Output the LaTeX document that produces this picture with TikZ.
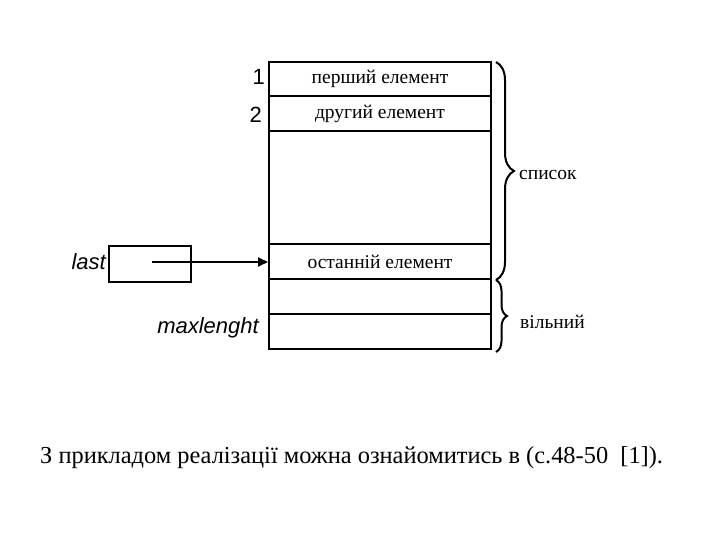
\documentclass[tikz,border=0pt]{standalone}
\usepackage{fontspec}
\setmainfont{Liberation Serif}
\newfontfamily\arialf{Liberation Sans}
\usetikzlibrary{decorations.pathreplacing,arrows.meta,calc}
\begin{document}
\begin{tikzpicture}[x=1pt,y=-1pt,
  cell/.style={draw,line width=2pt,minimum width=222pt,inner sep=0pt,anchor=north west,font=\fontsize{19.5}{22}\selectfont},
  lab/.style={font=\arialf\fontsize{22}{24}\selectfont,inner sep=0pt},
  brc/.style={decorate,decoration={brace,amplitude=#1},line width=2pt},
  txt/.style={font=\fontsize{19.5}{22}\selectfont,inner sep=0pt,anchor=west}]
\useasboundingbox (0,0) rectangle (720,540);
\node[cell,minimum height=34pt] (c1) at (268,61) {перший елемент};
\node[cell,minimum height=35pt] (c2) at (268,95) {другий елемент};
\node[cell,minimum height=113pt] (c3) at (268,130) {};
\node[cell,minimum height=35pt] (c4) at (268,243) {останній елемент};
\node[cell,minimum height=35pt] (c5) at (268,278) {};
\node[cell,minimum height=35pt] (c6) at (268,313) {};
\node[lab,anchor=east] (n1) at (265,77) {1};
\node[lab,anchor=east] (n2) at (262,115) {2};
\node[draw,line width=2pt,minimum width=82pt,minimum height=36pt,anchor=north west] (lastbox) at (108,245) {};
\node[lab,anchor=east] (lastl) at (106,262) {\itshape last};
\node[lab,anchor=east] (maxl) at (259,328) {\itshape maxlenght};
\coordinate (ast) at (152,262);
\draw[line width=2pt,-{Triangle[length=10pt,width=9pt]}] (ast) -- (c4.west |- ast);
\coordinate (b1) at ($(c1.north east)+(4,1)$);
\coordinate (b2) at ($(c4.south east)+(4,0)$);
\coordinate (b3) at ($(c6.south east)+(4,2)$);
\draw[brc=18pt] (b1) -- (b2);
\draw[brc=11pt] (b2) -- (b3);
\node[txt] (spys) at (519,175) {список};
\node[txt] (vil) at (520,322) {вільний};
\node[font=\fontsize{24.4}{27}\selectfont,anchor=west,inner sep=0pt] (cap) at (40,458) {З прикладом реалізації можна ознайомитись в (с.48-50\ \ [1]).};
\end{tikzpicture}
\end{document}
